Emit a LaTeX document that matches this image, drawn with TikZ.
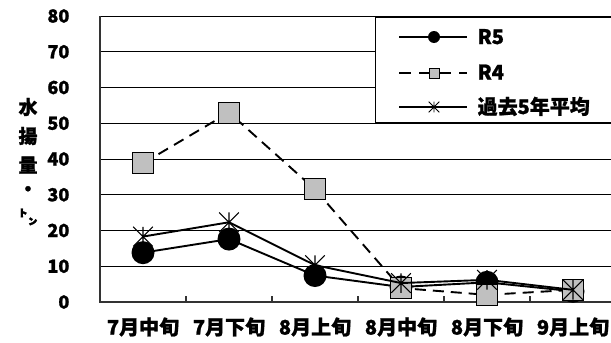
\documentclass[tikz,border=0pt]{standalone}
\usepackage{fontspec}
\setmainfont{Noto Sans CJK JP}[BoldFeatures={FakeBold=1.2}]
\usetikzlibrary{positioning}
\definecolor{silver}{RGB}{192,192,192}

\begin{document}
\begin{tikzpicture}[x=1pt,y=-1pt,semithick,
    grid/.style={black,line width=0.7pt},
    axis/.style={black!80,line width=1.2pt},
    ser/.style={black,line width=1.9pt},
    r4ser/.style={ser,dash pattern=on 11pt off 7pt},
    dot/.style={circle,fill=black,inner sep=0pt,minimum size=#1},
    sq/.style={rectangle,draw=black,line width=1pt,fill=silver,inner sep=0pt,minimum size=#1},
    astr/.style={rectangle,inner sep=0pt,minimum size=#1},
    arm/.style={black,line width=1.1pt},
    ylab/.style={anchor=east,font=\bfseries\fontsize{18}{18}\selectfont},
    xlab/.style={font=\bfseries\fontsize{20}{20}\selectfont},
    lab/.style={anchor=base west,font=\bfseries\fontsize{20}{20}\selectfont},
    ttl/.style={font=\bfseries\fontsize{19}{19}\selectfont}]
\useasboundingbox (0,0) rectangle (611,343);

% grid and y axis labels
\foreach \v in {10,20,...,80}
  \draw[grid] (100,{302-3.575*\v}) -- (611,{302-3.575*\v});
\foreach \v in {0,10,...,80}
  \node[ylab] (y\v) at (73,{302-3.575*\v}) {\v};

% axes
\draw[axis] (100,16) -- (100,302) -- (611,302);
\foreach \i in {1,...,5}
  \draw[axis] ({100+86*\i},302) -- ({100+86*\i},296);

% axis title
\foreach \t/\y [count=\i] in {水/107,揚/136,量/165,・/191,㌧/217}
  \node[ttl] (t\i) at (28,\y) {\t};

% categories
\foreach \t [count=\i] in {7月中旬,7月下旬,8月上旬,8月中旬,8月下旬,9月上旬}
  \node[xlab] (x\i) at ({57+86*\i},327) {\t};

% data points
\foreach \v [count=\i] in {13.8,17.6,7.4,4.2,5.5,3.0}
  \coordinate (a\i) at ({57+86*\i},{302-3.575*\v});
\foreach \v [count=\i] in {38.8,53.0,31.5,3.9,2.0,3.4}
  \coordinate (b\i) at ({57+86*\i},{302-3.575*\v});
\foreach \v [count=\i] in {18.3,22.3,10.3,5.3,6.2,3.4}
  \coordinate (c\i) at ({57+86*\i},{302-3.575*\v});

% R5
\draw[ser] (a1) \foreach \i in {2,...,6}{ -- (a\i)};
\foreach \i in {1,...,6}
  \node[dot=23pt] (ma\i) at (a\i) {};

% R4
\draw[r4ser] (b1) \foreach \i in {2,...,6}{ -- (b\i)};
\foreach \i in {1,...,6}
  \node[sq=21pt] (mb\i) at (b\i) {};

% 5 year mean
\draw[ser] (c1) \foreach \i in {2,...,6}{ -- (c\i)};
\foreach \i in {1,...,6}{
  \node[astr=19pt] (mc\i) at (c\i) {};
  \draw[arm] (mc\i.north west) -- (mc\i.south east)
    (mc\i.north east) -- (mc\i.south west)
    (mc\i.north) -- (mc\i.south);
}

% legend
\node[rectangle,draw=black,line width=0.8pt,fill=white,inner sep=0pt,
  minimum width=240pt,minimum height=105pt,anchor=north west] (legend) at (375,17) {};
\coordinate (l1) at (399,37);
\coordinate (r1) at (467,37);
\coordinate (l2) at (399,73);
\coordinate (r2) at (467,73);
\coordinate (l3) at (399,107);
\coordinate (r3) at (467,107);
\draw[ser] (l1) -- (r1);
\node[dot=12pt] (k1) at (434,37) {};
\draw[r4ser,dash pattern=on 12pt off 8pt] (l2) -- (r2);
\node[sq=10pt,line width=0.8pt] (k2) at (434,73) {};
\draw[ser] (l3) -- (r3);
\node[astr=10pt] (k3) at (434,107) {};
\draw[arm,line width=0.9pt] (k3.north west) -- (k3.south east)
  (k3.north east) -- (k3.south west) (k3.north) -- (k3.south);
\node[lab] (n1) at (474,44) {R5};
\node[lab] (n2) at (474,79.5) {R4};
\node[lab] (n3) at (474,114) {過去5年平均};
\end{tikzpicture}
\end{document}
